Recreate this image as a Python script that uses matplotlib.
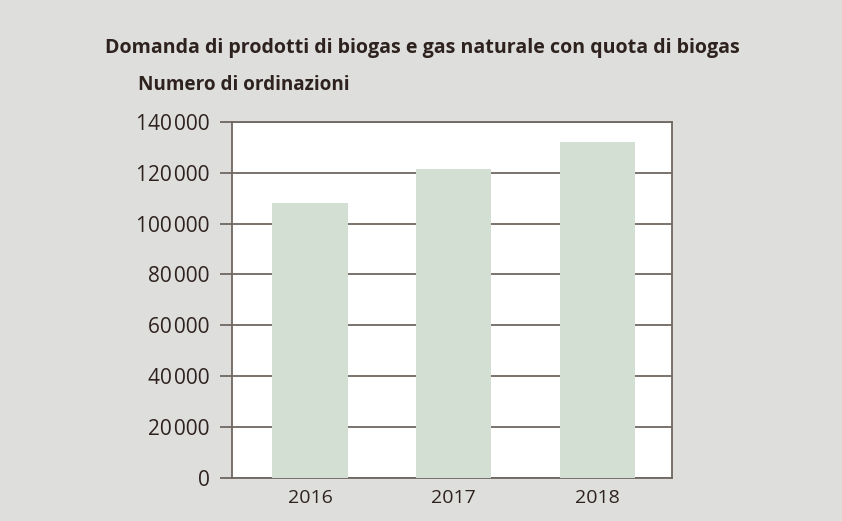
import numpy as np
import matplotlib.pyplot as plt
from matplotlib.ticker import FuncFormatter

plt.rcParams['font.family'] = ['Open Sans', 'DejaVu Sans']

# --- data
years = ['2016', '2017', '2018']
orders = [108000, 121500, 132000]
yticks = [0, 20000, 40000, 60000, 80000, 100000, 120000, 140000]

bg = '#dededc'
bar_col = '#d4dfd4'
line_col = '#6f6760'
txt_col = '#2e221e'

W, H = 842, 521
fig = plt.figure(figsize=(W / 100, H / 100), dpi=100, facecolor=bg)

left, right, top, bottom = 232, 672, 122, 477.7
ax = fig.add_axes((left / W, 1 - bottom / H, (right - left) / W, (bottom - top) / H))
ax.set_facecolor('white')

x = np.arange(len(years))
ax.bar(x, orders, width=0.526, color=bar_col, zorder=3)

ax.set_xlim(-0.543, 2.52)
ax.set_ylim(0, 140000)
ax.set_yticks(yticks)
# thousands separated by a very narrow space, as in the source
ax.yaxis.set_major_formatter(FuncFormatter(lambda v, p: f'{int(v):,}'.replace(',', '\u200a')))
ax.set_xticks(x)
ax.set_xticklabels(years)

ax.grid(axis='y', color=line_col, linewidth=1.3, zorder=1)
for s in ax.spines.values():
    s.set_color(line_col)
    s.set_linewidth(1.3)

ax.tick_params(axis='y', length=9, width=1.3, color=line_col, labelsize=15, labelcolor=txt_col, pad=7)
ax.tick_params(axis='x', length=0, labelsize=14, labelcolor=txt_col, pad=8)

fig.text(105 / W, 1 - 53 / H, 'Domanda di prodotti di biogas e gas naturale con quota di biogas',
         fontsize=14.1, fontweight='bold', color=txt_col, ha='left', va='baseline')
fig.text(138 / W, 1 - 90 / H, 'Numero di ordinazioni',
         fontsize=13.6, fontweight='bold', color=txt_col, ha='left', va='baseline')

fig.savefig('out.png', dpi=100, facecolor=bg)
